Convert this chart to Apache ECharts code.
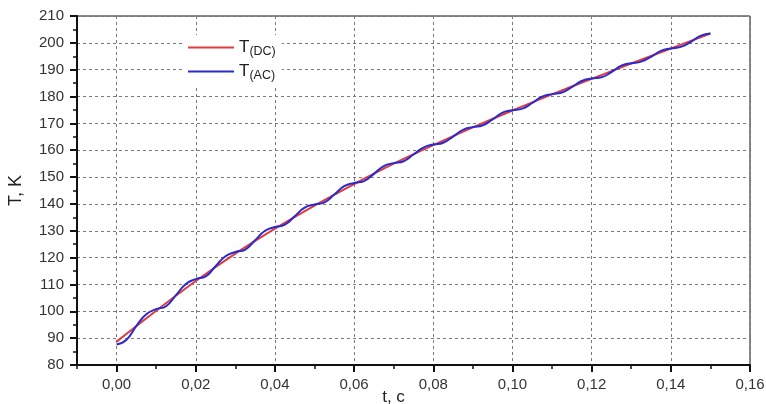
<!DOCTYPE html>
<html>
<head>
<meta charset="utf-8">
<script src="https://cdn.jsdelivr.net/npm/echarts@6/dist/echarts.min.js"></script>
<style>
  html, body { margin: 0; padding: 0; background: #fff; }
  #chart { width: 766px; height: 404px; }
</style>
</head>
<body>
<div id="chart"></div>
<script>
// Time, s (DC curve sampled every 10 ms)
const timeDC = [0, 0.01, 0.02, 0.03, 0.04, 0.05, 0.06, 0.07, 0.08, 0.09, 0.10, 0.11, 0.12, 0.13, 0.14, 0.15];
// Temperature, K, DC heating
const tempDC = [88.7, 100.2, 111.3, 121.5, 130.8, 139.4, 147.4, 155.0, 161.9, 168.5, 174.8, 180.8, 186.6, 192.3, 197.9, 203.5];

// Time, s (AC curve sampled every 2.5 ms)
const timeAC = [
  0, 0.0025, 0.005, 0.0075, 0.01, 0.0125, 0.015, 0.0175, 0.02, 0.0225, 0.025, 0.0275,
  0.03, 0.0325, 0.035, 0.0375, 0.04, 0.0425, 0.045, 0.0475, 0.05, 0.0525, 0.055, 0.0575,
  0.06, 0.0625, 0.065, 0.0675, 0.07, 0.0725, 0.075, 0.0775, 0.08, 0.0825, 0.085, 0.0875,
  0.09, 0.0925, 0.095, 0.0975, 0.10, 0.1025, 0.105, 0.1075, 0.11, 0.1125, 0.115, 0.1175,
  0.12, 0.1225, 0.125, 0.1275, 0.13, 0.1325, 0.135, 0.1375, 0.14, 0.1425, 0.145, 0.1475, 0.15
];
// Temperature, K, AC heating
const tempAC = [
  87.6, 89.4, 94.6, 98.9, 100.8, 101.9, 106.0, 110.2, 112.0, 113.0, 116.8, 120.5,
  122.1, 123.0, 126.5, 130.0, 131.4, 132.3, 135.4, 138.6, 139.8, 140.6, 143.5, 146.6,
  147.8, 148.5, 151.2, 154.1, 155.2, 155.9, 158.4, 161.0, 162.1, 162.8, 165.1, 167.6,
  168.6, 169.3, 171.5, 174.0, 174.9, 175.5, 177.6, 180.0, 180.9, 181.5, 183.5, 185.8,
  186.7, 187.2, 189.1, 191.5, 192.4, 193.0, 194.8, 197.0, 197.9, 198.5, 200.3, 202.6, 203.5
];

// Axis ticks
const xMajorTicks = [0, 0.02, 0.04, 0.06, 0.08, 0.10, 0.12, 0.14, 0.16];

const FONT = '"Liberation Sans", Arial, sans-serif';
const fmtComma = v => v.toFixed(2).replace('.', ',');
const zip = (xs, ys) => xs.map((x, i) => [x, ys[i]]);

const chart = echarts.init(document.getElementById('chart'), null, { renderer: 'canvas' });

const gridLine = { show: true, lineStyle: { color: '#7a7a7a', type: [3, 3], width: 1 } };

chart.setOption({
  backgroundColor: '#ffffff',
  animation: false,
  grid: {
    left: 77, right: 16, top: 16, bottom: 39,
    outerBoundsMode: 'none',
    show: true, borderColor: '#111', borderWidth: 1, backgroundColor: 'transparent'
  },
  legend: {
    orient: 'vertical',
    left: 182, top: 35,
    padding: [4, 6, 4, 6],
    backgroundColor: '#ffffff',
    icon: 'rect',
    itemWidth: 46, itemHeight: 2,
    itemGap: 5,
    data: ['T(DC)', 'T(AC)'],
    formatter: name => name.replace(/^T\((.*)\)$/, '{t|T}{s|($1)}'),
    textStyle: {
      fontFamily: FONT, color: '#222',
      rich: {
        t: { fontSize: 17, fontFamily: FONT, color: '#222', height: 19 },
        s: { fontSize: 12.5, fontFamily: FONT, color: '#222', padding: [8, 0, 0, 0] }
      }
    }
  },
  xAxis: [
    {
      type: 'value',
      min: -0.01, max: 0.16,
      name: 't, c',
      nameLocation: 'middle',
      nameMoveOverlap: false,
      nameGap: 24,
      nameTextStyle: { fontFamily: FONT, fontSize: 17, color: '#222', padding: [0, 40, 0, 0] },
      axisLine: { show: true, onZero: false, lineStyle: { color: '#111', width: 2 } },
      axisTick: { show: true, length: 7, lineStyle: { color: '#111', width: 2 }, customValues: xMajorTicks },
      axisLabel: {
        customValues: xMajorTicks,
        formatter: v => fmtComma(v),
        fontFamily: FONT, fontSize: 15, color: '#333', margin: 12
      },
      splitLine: gridLine
    },
    {
      // minor ticks every 10 ms
      type: 'value',
      position: 'bottom',
      min: -0.01, max: 0.16, interval: 0.01,
      axisLine: { show: false },
      axisTick: { show: true, length: 4, lineStyle: { color: '#111', width: 1.5 } },
      axisLabel: { show: false },
      splitLine: { show: false }
    }
  ],
  yAxis: {
    type: 'value',
    min: 80, max: 210, interval: 10,
    name: 'T, K',
    nameLocation: 'middle',
    nameMoveOverlap: false,
    nameGap: 52,
    nameRotate: 90,
    nameTextStyle: { fontFamily: FONT, fontSize: 18, color: '#222' },
    axisLine: { show: true, onZero: false, lineStyle: { color: '#111', width: 2 } },
    axisTick: { show: true, length: 7, lineStyle: { color: '#111', width: 2 } },
    minorTick: { show: true, splitNumber: 2, length: 4, lineStyle: { color: '#111', width: 1.5 } },
    axisLabel: {
      formatter: v => String(v),
      fontFamily: FONT, fontSize: 15, color: '#333', margin: 13
    },
    splitLine: gridLine
  },
  series: [
    {
      name: 'T(DC)',
      type: 'line',
      xAxisIndex: 0,
      data: zip(timeDC, tempDC),
      smooth: 0.4,
      showSymbol: false,
      color: '#e23b3b',
      lineStyle: { color: '#e23b3b', width: 2 },
      z: 2
    },
    {
      name: 'T(AC)',
      type: 'line',
      xAxisIndex: 0,
      data: zip(timeAC, tempAC),
      smooth: 0.5,
      showSymbol: false,
      color: '#2a2ad0',
      lineStyle: { color: '#2a2ad0', width: 2 },
      z: 3
    }
  ]
});
</script>
</body>
</html>
